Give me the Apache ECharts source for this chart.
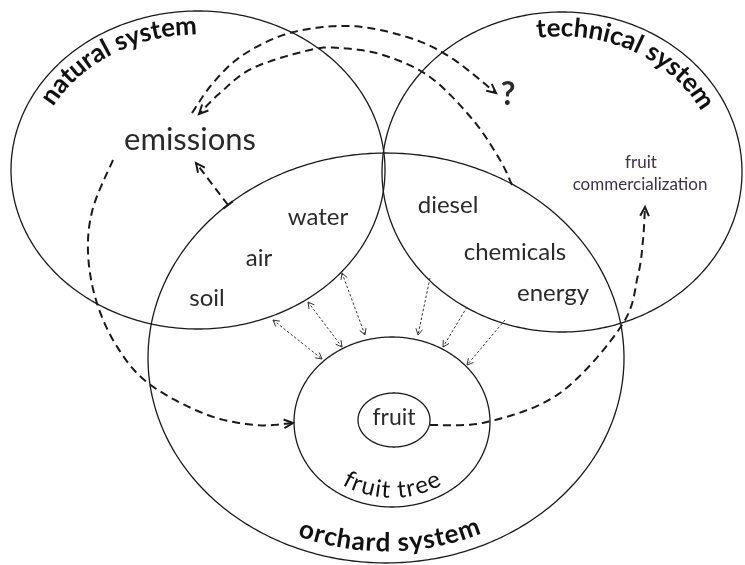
<!DOCTYPE html>
<html><head><meta charset="utf-8">
<script src="https://cdn.jsdelivr.net/npm/echarts@6/dist/echarts.min.js"></script>
<style>html,body{margin:0;padding:0;background:#fff}#c{width:745px;height:565px}</style>
</head><body><div id="c"></div>
<script>
// ---------- diagram data (in the diagram's own coordinate units) ----------
const ellipseNames = ['natural system', 'technical system', 'orchard system', 'fruit tree', 'fruit'];
const ellipseCX = [198, 562, 386, 392, 394];
const ellipseCY = [170, 172, 358, 422, 420];
const ellipseRX = [187, 180, 238, 98, 36];
const ellipseRY = [159, 160, 205, 85, 27];

// curved titles: text, ellipse index, inset, mid angle (deg), direction (-1 top / +1 bottom)
const curvedTitles = ['natural system', 'technical system', 'orchard system', 'fruit tree'];
const curvedEllipse = [0, 1, 2, 3];
const curvedInset = [15, 16, 20, 17];
const curvedMidDeg = [120, 64, 271, 270];
const curvedDir = [-1, -1, 1, 1];

// plain labels
const labelTexts = ['emissions', 'water', 'air', 'soil', 'diesel', 'chemicals', 'energy', 'fruit', 'fruit', 'commercialization', '?'];
const labelX = [190, 318, 259, 207, 448, 515, 553, 394, 641, 640, 508];
const labelY = [140, 217, 258, 298, 205, 252, 293, 418, 163, 185, 95];

// dashed flow curves (points along each curve); arrow at the end
const curveEmissionsToQuestion = [[192, 113], [213, 83], [243, 55], [290, 33], [350, 26], [407, 37], [450, 57], [496, 93]];
const curveOrchardToEmissions = [[512, 185], [500, 160], [473, 120], [430, 77], [383, 55], [340, 48], [310, 50], [253, 68], [220, 93], [199, 114]];
const curveOrchardUpToEmissions = [[228, 205], [196, 163]];
const curveEmissionsToFruitTree = [[113, 160], [93, 208], [88, 252], [96, 300], [116, 345], [148, 383], [205, 414], [255, 425], [293, 423]];
const curveFruitToCommercialization = [[430, 425], [487, 422], [560, 393], [622, 325], [638, 275], [643, 240], [645, 207]];

// thin dotted exchange arrows: start, end, double-headed?
const exchangeStart = [[273, 320], [308, 302], [342, 273], [430, 278], [467, 307], [505, 320]];
const exchangeEnd = [[322, 359], [342, 347], [365, 335], [418, 335], [443, 347], [467, 365]];
const exchangeDouble = [true, true, true, false, false, false];

// ---------- rendering ----------
const FONT = 'Lato, "Open Sans", sans-serif';
const INK = '#1a1a1a';
const measureCtx = document.createElement('canvas').getContext('2d');
function textWidth(t, font) { measureCtx.font = font; return measureCtx.measureText(t).width; }

function catmull(pts, seg) {
  if (pts.length < 3) return pts.slice();
  const out = [];
  for (let i = 0; i < pts.length - 1; i++) {
    const p0 = pts[Math.max(i - 1, 0)], p1 = pts[i], p2 = pts[i + 1], p3 = pts[Math.min(i + 2, pts.length - 1)];
    for (let j = 0; j < seg; j++) {
      const t = j / seg, t2 = t * t, t3 = t2 * t;
      const f = k => 0.5 * (2 * p1[k] + (-p0[k] + p2[k]) * t + (2 * p0[k] - 5 * p1[k] + 4 * p2[k] - p3[k]) * t2 + (-p0[k] + 3 * p1[k] - 3 * p2[k] + p3[k]) * t3);
      out.push([f(0), f(1)]);
    }
  }
  out.push(pts[pts.length - 1]);
  return out;
}

function arrowHead(tip, from, len, half, width, color) {
  const ang = Math.atan2(tip[1] - from[1], tip[0] - from[0]);
  const a1 = ang + Math.PI - half, a2 = ang + Math.PI + half;
  return {
    type: 'polyline',
    shape: { points: [[tip[0] + len * Math.cos(a1), tip[1] + len * Math.sin(a1)], tip, [tip[0] + len * Math.cos(a2), tip[1] + len * Math.sin(a2)]] },
    style: { stroke: color, lineWidth: width, fill: null, lineJoin: 'miter' }
  };
}

function curvedText(api, text, cx, cy, rx, ry, midDeg, dir, font, color, spacing) {
  const pt = th => [cx + rx * Math.cos(th), cy - ry * Math.sin(th)];
  const step = 0.001 * dir;
  const W = textWidth(text, font) + spacing * (text.length - 1);
  let th = midDeg * Math.PI / 180, p = pt(th), acc = 0;
  while (acc < W / 2) { const th2 = th - step, p2 = pt(th2); acc += Math.hypot(p2[0] - p[0], p2[1] - p[1]); th = th2; p = p2; }
  const kids = [];
  let s = 0;
  for (let i = 0; i < text.length; i++) {
    const ch = text[i];
    const target = textWidth(text.slice(0, i), font) + spacing * i + textWidth(ch, font) / 2;
    while (s < target) { const th2 = th + step, p2 = pt(th2); s += Math.hypot(p2[0] - p[0], p2[1] - p[1]); th = th2; p = p2; }
    if (ch === ' ') continue;
    const pa = api.coord(pt(th - step)), pb = api.coord(pt(th + step));
    const ang = Math.atan2(pb[1] - pa[1], pb[0] - pa[0]);
    const c = api.coord(p);
    kids.push({ type: 'text', x: c[0], y: c[1], rotation: -ang,
      style: { text: ch, font: font, fill: color, align: 'center', verticalAlign: 'middle' } });
  }
  return kids;
}

function labelFont(i) {
  const t = labelTexts[i];
  if (t === 'emissions') return '31px ' + FONT;
  if (t === '?') return 'bold 32px ' + FONT;
  if (i === 8 || t === 'commercialization') return '17px ' + FONT;
  if (i === 7) return '23px ' + FONT;
  return '24px ' + FONT;
}

function renderAll(params, api) {
  const kids = [];
  // ellipses
  for (let e = 0; e < ellipseNames.length; e++) {
    const pts = [];
    for (let a = 0; a < 360; a += 1) {
      const r = a * Math.PI / 180;
      pts.push(api.coord([ellipseCX[e] + ellipseRX[e] * Math.cos(r), ellipseCY[e] + ellipseRY[e] * Math.sin(r)]));
    }
    kids.push({ type: 'polygon', shape: { points: pts }, style: { stroke: INK, lineWidth: 1.3, fill: null } });
  }
  // dashed flow curves
  const flows = [curveEmissionsToQuestion, curveOrchardToEmissions, curveOrchardUpToEmissions, curveEmissionsToFruitTree, curveFruitToCommercialization];
  flows.forEach((c, idx) => {
    const pts = catmull(c, 20).map(p => api.coord(p));
    kids.push({ type: 'polyline', shape: { points: pts }, style: { stroke: INK, lineWidth: 2, lineDash: [8, 5], fill: null } });
    const n = pts.length;
    kids.push(arrowHead(pts[n - 1], pts[Math.max(0, n - 4)], 10, 0.45, 2, INK));
    if (idx === 2) {
      const a = pts[0], b = pts[1];
      const ang = Math.atan2(b[1] - a[1], b[0] - a[0]) + Math.PI / 2;
      kids.push({ type: 'line', shape: { x1: a[0] - 6 * Math.cos(ang), y1: a[1] - 6 * Math.sin(ang), x2: a[0] + 6 * Math.cos(ang), y2: a[1] + 6 * Math.sin(ang) }, style: { stroke: INK, lineWidth: 2 } });
    }
  });
  // dotted exchange arrows
  for (let i = 0; i < exchangeStart.length; i++) {
    const a = api.coord(exchangeStart[i]), b = api.coord(exchangeEnd[i]);
    kids.push({ type: 'line', shape: { x1: a[0], y1: a[1], x2: b[0], y2: b[1] }, style: { stroke: '#333', lineWidth: 1, lineDash: [2.5, 2] } });
    kids.push(arrowHead(b, a, 7, 0.5, 1, '#333'));
    if (exchangeDouble[i]) kids.push(arrowHead(a, b, 7, 0.5, 1, '#333'));
  }
  // plain labels
  for (let i = 0; i < labelTexts.length; i++) {
    const c = api.coord([labelX[i], labelY[i]]);
    kids.push({ type: 'text', x: c[0], y: c[1],
      style: { text: labelTexts[i], font: labelFont(i), fill: (i >= 8 && i <= 9) ? '#3b3346' : '#2a2a2a', align: 'center', verticalAlign: 'middle' } });
  }
  // curved titles
  for (let i = 0; i < curvedTitles.length; i++) {
    const e = curvedEllipse[i];
    const font = (i === 3 ? '24px ' : 'bold 26px ') + FONT;
    curvedText(api, curvedTitles[i], ellipseCX[e], ellipseCY[e], ellipseRX[e] - curvedInset[i], ellipseRY[e] - curvedInset[i],
      curvedMidDeg[i], curvedDir[i], font, '#111', 0.5).forEach(k => kids.push(k));
  }
  return { type: 'group', children: kids };
}

const chart = echarts.init(document.getElementById('c'));
chart.setOption({
  animation: false,
  backgroundColor: '#ffffff',
  grid: { left: 0, right: 0, top: 0, bottom: 0 },
  xAxis: { type: 'value', min: 0, max: 745, show: false },
  yAxis: { type: 'value', min: 0, max: 565, inverse: true, show: false },
  series: [{ type: 'custom', coordinateSystem: 'cartesian2d', data: [[0, 0]], clip: false, silent: true, renderItem: renderAll }]
});
</script>
</body></html>
